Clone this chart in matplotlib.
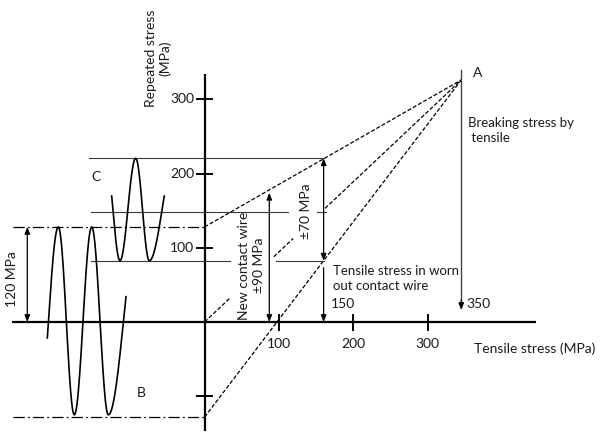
import numpy as np
import matplotlib
matplotlib.use("Agg")
import matplotlib.pyplot as plt

plt.rcParams['font.family'] = ['Lato', 'DejaVu Sans']

# ---------------- data (MPa) ----------------
point_A = (345, 326)                 # breaking stress by tensile
line_intercepts = [128, 0, -128]     # dashed lines from the y-axis to A
new_wire_x = 87                      # tensile stress, new contact wire
new_wire_top = 174                   # top of the +-90 MPa arrow
worn_wire_x = 160                    # tensile stress, worn out contact wire
c_levels = [220.5, 147.5, 82.6]      # max / mean / min of wave C
b_level = 128                        # +-120 MPa band of wave B
y_ticks = [300, 200, 100, -100]
y_tick_labels = ['300', '200', '100', '']
x_ticks = [100, 200, 300]
x_tick_labels = ['100', '200', '300']

# wave B: start, extrema, end  (x, y)
wave_b_start = (-211.4, -21.5)
wave_b_ext_x = [-196.6, -175.1, -151.7, -129.4]
wave_b_ext_y = [128, -125, 128, -125]
wave_b_end = (-105.6, 34.1)
# wave C
wave_c_start = (-124.9, 169.7)
wave_c_ext_x = [-113.7, -92.6, -74.3]
wave_c_ext_y = [82.6, 220.5, 82.6]
wave_c_end = (-54.2, 169.7)

TXT = '#1a1a1a'
FS = 10
FS2 = 9.5

fig = plt.figure(figsize=(6.0, 4.33), dpi=100)
ax = fig.add_axes([0, 0, 1, 1])
ax.set_xlim(-275.0, 531.5)
ax.set_ylim(-149.5, 433.7)
ax.axis('off')


def half_cos(x0, y0, x1, y1, t0=0.0, t1=1.0, n=60):
    t = np.linspace(t0, t1, n)
    m = (y0 + y1) / 2
    a = (y0 - y1) / 2
    return x0 + (x1 - x0) * t, m + a * np.cos(np.pi * t)


def wave(start, ex, ey, end):
    xs, ys = [], []
    y1 = ey[0]
    y0v = ey[1]
    m = (y0v + y1) / 2
    a = (y0v - y1) / 2
    ts = np.arccos(np.clip((start[1] - m) / a, -1, 1)) / np.pi
    x0v = ex[0] - (ex[0] - start[0]) / (1 - ts)
    px, py = half_cos(x0v, y0v, ex[0], y1, ts, 1.0)
    xs.append(px); ys.append(py)
    for i in range(len(ex) - 1):
        px, py = half_cos(ex[i], ey[i], ex[i + 1], ey[i + 1])
        xs.append(px); ys.append(py)
    y0 = ey[-1]
    y1v = ey[-2]
    m = (y0 + y1v) / 2
    a = (y0 - y1v) / 2
    te = np.arccos(np.clip((end[1] - m) / a, -1, 1)) / np.pi
    x1v = ex[-1] + (end[0] - ex[-1]) / te
    px, py = half_cos(ex[-1], y0, x1v, y1v, 0.0, te)
    xs.append(px); ys.append(py)
    return np.concatenate(xs), np.concatenate(ys)


# ---------------- axes ----------------
ax.plot([-259, 445], [0, 0], color='k', lw=1.6, solid_capstyle='butt')
ax.plot([0, 0], [-147, 334], color='k', lw=1.6, solid_capstyle='butt')
for v in y_ticks:
    ax.plot([-10.5, 10.5], [v, v], color='k', lw=1.4)
for v in x_ticks:
    ax.plot([v, v], [-11, 9.5], color='k', lw=1.4)
for v, s in zip(y_ticks, y_tick_labels):
    if s:
        ax.text(-14, v, s, ha='right', va='center', fontsize=FS, color=TXT)
for v, s in zip(x_ticks, x_tick_labels):
    ax.text(v, -29.6, s, ha='center', va='center', fontsize=FS, color=TXT)

ax.text(362, -36.4, 'Tensile stress (MPa)', ha='left', va='center', fontsize=FS, color=TXT)
ax.text(-62, 355, 'Repeated stress\n(MPa)', ha='center', va='center', rotation=90,
        multialignment='center', fontsize=FS, color=TXT)

# ---------------- dashed lines to A ----------------
dash = (0, (3.2, 1.6))
Ax, Ay = point_A


def line_y(b, x):
    return b + (Ay - b) / Ax * x


ax.plot([0, Ax], [line_intercepts[0], Ay], color='k', lw=0.9, ls=dash)
ax.plot([0, Ax], [line_intercepts[2], Ay], color='k', lw=0.9, ls=dash)
for seg in [(0, 34), (93, 119), (162, Ax)]:
    xs_ = np.array(seg, dtype=float)
    ax.plot(xs_, line_y(line_intercepts[1], xs_), color='k', lw=0.9, ls=dash)

# ---------------- dash-dot band lines ----------------
dd = (0, (9, 2.5, 1.5, 2.5))
for v in [b_level, -b_level]:
    ax.plot([-257.5, 0], [v, v], color='k', lw=0.9, ls=dd)

# ---------------- C horizontal lines ----------------
hl = dict(color='#3a3a3a', lw=0.8)
ax.plot([-155, worn_wire_x + 0.5], [c_levels[0]] * 2, **hl)
ax.plot([-152.7, 112], [c_levels[1]] * 2, **hl)
ax.plot([151, 163], [c_levels[1]] * 2, **hl)
ax.plot([-152.7, 33.7], [c_levels[2]] * 2, **hl)
ax.plot([96, worn_wire_x], [c_levels[2]] * 2, **hl)

# ---------------- waves ----------------
bx, by = wave(wave_b_start, wave_b_ext_x, wave_b_ext_y, wave_b_end)
ax.plot(bx, by, color='k', lw=1.2)
cx, cy = wave(wave_c_start, wave_c_ext_x, wave_c_ext_y, wave_c_end)
ax.plot(cx, cy, color='k', lw=1.2)

# ---------------- arrows ----------------
def arrow(x0, y0, x1, y1, style):
    ax.annotate('', xy=(x1, y1), xytext=(x0, y0),
                arrowprops=dict(arrowstyle=style + ',head_length=0.5,head_width=0.2',
                                color='k', lw=0.9, shrinkA=0, shrinkB=0,
                                mutation_scale=8))


arrow(-238.3, 0, -238.3, b_level, '<|-|>')
arrow(new_wire_x, 0, new_wire_x, new_wire_top, '<|-|>')
arrow(worn_wire_x, c_levels[2], worn_wire_x, c_levels[0], '<|-|>')
arrow(worn_wire_x, 73, worn_wire_x, 0, '-|>')
ax.plot([Ax, Ax], [339.4, 20], color='#444444', lw=1.0)
arrow(Ax, 30, Ax, 16.2, '-|>')

# ---------------- labels ----------------
ax.text(366.8, 336, 'A', ha='center', va='center', fontsize=FS, color=TXT)
ax.text(354, 258.6, 'Breaking stress by\n tensile', ha='left', va='center',
        fontsize=FS2, color=TXT, linespacing=1.3)
ax.text(352, 23.6, '350', ha='left', va='center', fontsize=FS, color=TXT)
ax.text(172.6, 58.6, 'Tensile stress in worn\nout contact wire', ha='left', va='center',
        fontsize=FS2, color=TXT, linespacing=1.3)
ax.text(169.9, 23.6, '150', ha='left', va='center', fontsize=FS, color=TXT)
ax.text(136.3, 148.8, '±70 MPa', ha='center', va='center', rotation=90,
        fontsize=FS, color=TXT)
ax.text(63, 76.1, 'New contact wire\n±90 MPa', ha='center', va='center', rotation=90,
        multialignment='center', fontsize=FS, color=TXT, linespacing=1.25)
ax.text(-258.9, 57.2, '120 MPa', ha='center', va='center', rotation=90,
        fontsize=FS, color=TXT)
ax.text(-145.3, 195.3, 'C', ha='center', va='center', fontsize=FS, color=TXT)
ax.text(-84.8, -95.6, 'B', ha='center', va='center', fontsize=FS, color=TXT)

fig.savefig('out.png', dpi=100)
